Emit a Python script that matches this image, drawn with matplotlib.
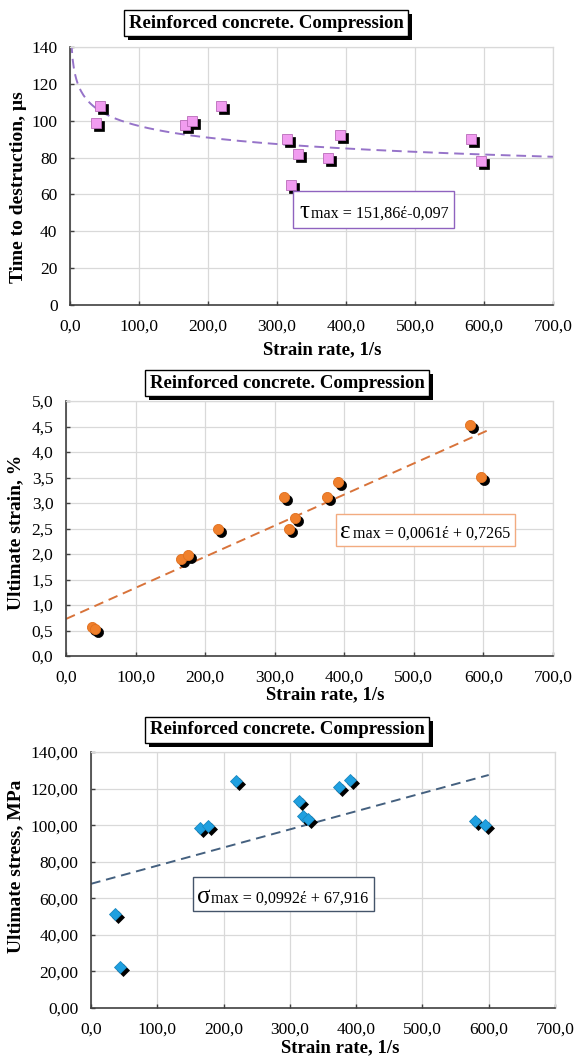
import numpy as np
import matplotlib
matplotlib.use("Agg")
import matplotlib.pyplot as plt
import matplotlib.transforms as mtransforms
import matplotlib.patheffects as pe
from matplotlib.patches import Rectangle

plt.rcParams['font.family'] = ['Liberation Serif', 'DejaVu Serif']

# ---------------- data ----------------
title_text = "Reinforced concrete. Compression"
xlabel_text = "Strain rate, 1/s"

x_ticks = [0, 100, 200, 300, 400, 500, 600, 700]
x_ticklabels = ["0,0", "100,0", "200,0", "300,0", "400,0", "500,0", "600,0", "700,0"]

# Panel 1: time to destruction
rate_tau = [37, 44, 166, 177, 219, 314, 320, 330, 374, 391, 581, 595]
tau = [99, 108, 97.5, 100, 108, 90, 65, 82, 80, 92, 90, 78]
tau_coef, tau_exp = 151.86, -0.097
tau_yticks = [0, 20, 40, 60, 80, 100, 120, 140]
tau_yticklabels = ["0", "20", "40", "60", "80", "100", "120", "140"]

# Panel 2: ultimate strain
rate_eps = [37, 42, 165, 176, 219, 313, 320, 329, 375, 391, 580, 596]
eps = [0.57, 0.52, 1.91, 1.99, 2.50, 3.11, 2.50, 2.71, 3.11, 3.41, 4.52, 3.51]
eps_slope, eps_icpt = 0.0061, 0.7265
eps_yticks = [0, 0.5, 1.0, 1.5, 2.0, 2.5, 3.0, 3.5, 4.0, 4.5, 5.0]
eps_yticklabels = ["0,0", "0,5", "1,0", "1,5", "2,0", "2,5", "3,0", "3,5", "4,0", "4,5", "5,0"]

# Panel 3: ultimate stress
rate_sig = [36, 43, 165, 177, 219, 314, 320, 327, 374, 390, 580, 595]
sig = [51.6, 22.3, 98.5, 99.7, 124, 113, 105, 103.4, 120.8, 124.5, 102, 100.3]
sig_slope, sig_icpt = 0.0992, 67.916
sig_yticks = [0, 20, 40, 60, 80, 100, 120, 140]
sig_yticklabels = ["0,00", "20,00", "40,00", "60,00", "80,00", "100,00", "120,00", "140,00"]

# ---------------- figure ----------------
W, H = 574, 1057
DPI = 100
fig = plt.figure(figsize=(W / DPI, H / DPI), dpi=DPI)


def ax_at(x0, y0, x1, y1):
    return fig.add_axes([x0 / W, 1 - y1 / H, (x1 - x0) / W, (y1 - y0) / H])


def px(x, y):
    return x / W, 1 - y / H


def style_axes(ax, yticks, yticklabels, ymax):
    ax.set_xlim(0, 700)
    ax.set_ylim(0, ymax)
    ax.set_xticks(x_ticks)
    ax.set_xticklabels(x_ticklabels)
    ax.set_yticks(yticks)
    ax.set_yticklabels(yticklabels)
    ax.grid(True, color='#d9d9d9', lw=0.9)
    ax.set_axisbelow(True)
    for s in ['top', 'right']:
        ax.spines[s].set_color('#d9d9d9')
        ax.spines[s].set_linewidth(0.9)
    for s in ['left', 'bottom']:
        ax.spines[s].set_color('#404040')
        ax.spines[s].set_linewidth(1.2)
    ax.tick_params(direction='in', length=3, width=1, color='#404040',
                   labelsize=12.5)
    ax.tick_params(axis='x', pad=10)
    ax.tick_params(axis='y', pad=9)


def shadow_scatter(ax, x, y, marker, ms, color, edge):
    shadow_tr = mtransforms.offset_copy(ax.transData, fig=fig, x=3, y=-3, units='dots')
    ax.plot(x, y, ls='none', marker=marker, ms=ms, mfc='black', mec='black',
            mew=0.5, transform=shadow_tr, zorder=3, clip_on=False)
    ax.plot(x, y, ls='none', marker=marker, ms=ms, mfc=color, mec=edge,
            mew=0.6, zorder=4, clip_on=False)


def title_box(cx, cy):
    t = fig.text(*px(cx, cy), title_text, ha='center', va='center',
                 fontsize=13.5, fontweight='bold',
                 bbox=dict(boxstyle='square,pad=0.25', fc='white', ec='black', lw=1.0))
    t.get_bbox_patch().set_path_effects([
        pe.withSimplePatchShadow(offset=(3, -3), shadow_rgbFace='black', alpha=1.0)])


def eq_box(x0, y0, x1, y1, ec, greek, gx, rest, rx, base_y):
    fig.patches.append(Rectangle(px(x0, y1), (x1 - x0) / W, (y1 - y0) / H,
                                 transform=fig.transFigure, fc='white', ec=ec,
                                 lw=1.0, zorder=5))
    fig.text(*px(gx, base_y), greek, ha='left', va='baseline', fontsize=18,
             zorder=6)
    fig.text(*px(rx, base_y), rest, ha='left', va='baseline', fontsize=11.6,
             zorder=6)


# ---------- Panel 1 ----------
ax1 = ax_at(70, 47, 553, 305)
style_axes(ax1, tau_yticks, tau_yticklabels, 140)
xc = np.linspace(2, 700, 400)
ax1.plot(xc, tau_coef * xc ** tau_exp, color='#9673c9', lw=1.4,
         dashes=(5, 3), zorder=2)
shadow_scatter(ax1, rate_tau, tau, 's', 6.8, '#f19cf0', '#b86bb8')
title_box(266, 23)
fig.text(*px(322, 350), xlabel_text, ha='center', va='center',
         fontsize=13.5, fontweight='bold')
fig.text(*px(19, 187), "Time to destruction, µs", ha='center', va='center',
         rotation=90, fontsize=14, fontweight='bold')
eq_box(293, 191, 454, 228, '#8f63bf', "τ", 299, "max = 151,86έ-0,097", 311, 218)

# ---------- Panel 2 ----------
ax2 = ax_at(66, 401, 553, 656)
style_axes(ax2, eps_yticks, eps_yticklabels, 5.0)
xl = np.array([0, 605])
ax2.plot(xl, eps_slope * xl + eps_icpt, color='#d8733a', lw=1.4,
         dashes=(5, 3), zorder=2)
shadow_scatter(ax2, rate_eps, eps, 'o', 7.3, '#f0802c', '#e07020')
title_box(287, 383)
fig.text(*px(325, 695), xlabel_text, ha='center', va='center',
         fontsize=13.5, fontweight='bold')
fig.text(*px(16, 532), "Ultimate strain, %", ha='center', va='center',
         rotation=90, fontsize=14, fontweight='bold')
eq_box(336, 514, 515, 546, '#f2ab80', "ε", 340, "max = 0,0061έ + 0,7265", 353, 538)

# ---------- Panel 3 ----------
ax3 = ax_at(91, 752, 555, 1008)
style_axes(ax3, sig_yticks, sig_yticklabels, 140)
xs = np.array([0, 600])
ax3.plot(xs, sig_slope * xs + sig_icpt, color='#44607f', lw=1.4,
         dashes=(5, 3), zorder=2)
shadow_scatter(ax3, rate_sig, sig, 'D', 5.8, '#1fa0e0', '#1a88c0')
title_box(287, 730)
fig.text(*px(340, 1048), xlabel_text, ha='center', va='center',
         fontsize=13.5, fontweight='bold')
fig.text(*px(16, 866), "Ultimate stress, MPa", ha='center', va='center',
         rotation=90, fontsize=14, fontweight='bold')
eq_box(193, 877, 374, 911, '#44546a', "σ", 197, "max = 0,0992έ + 67,916", 211, 903)

fig.savefig("out.png", dpi=DPI)
